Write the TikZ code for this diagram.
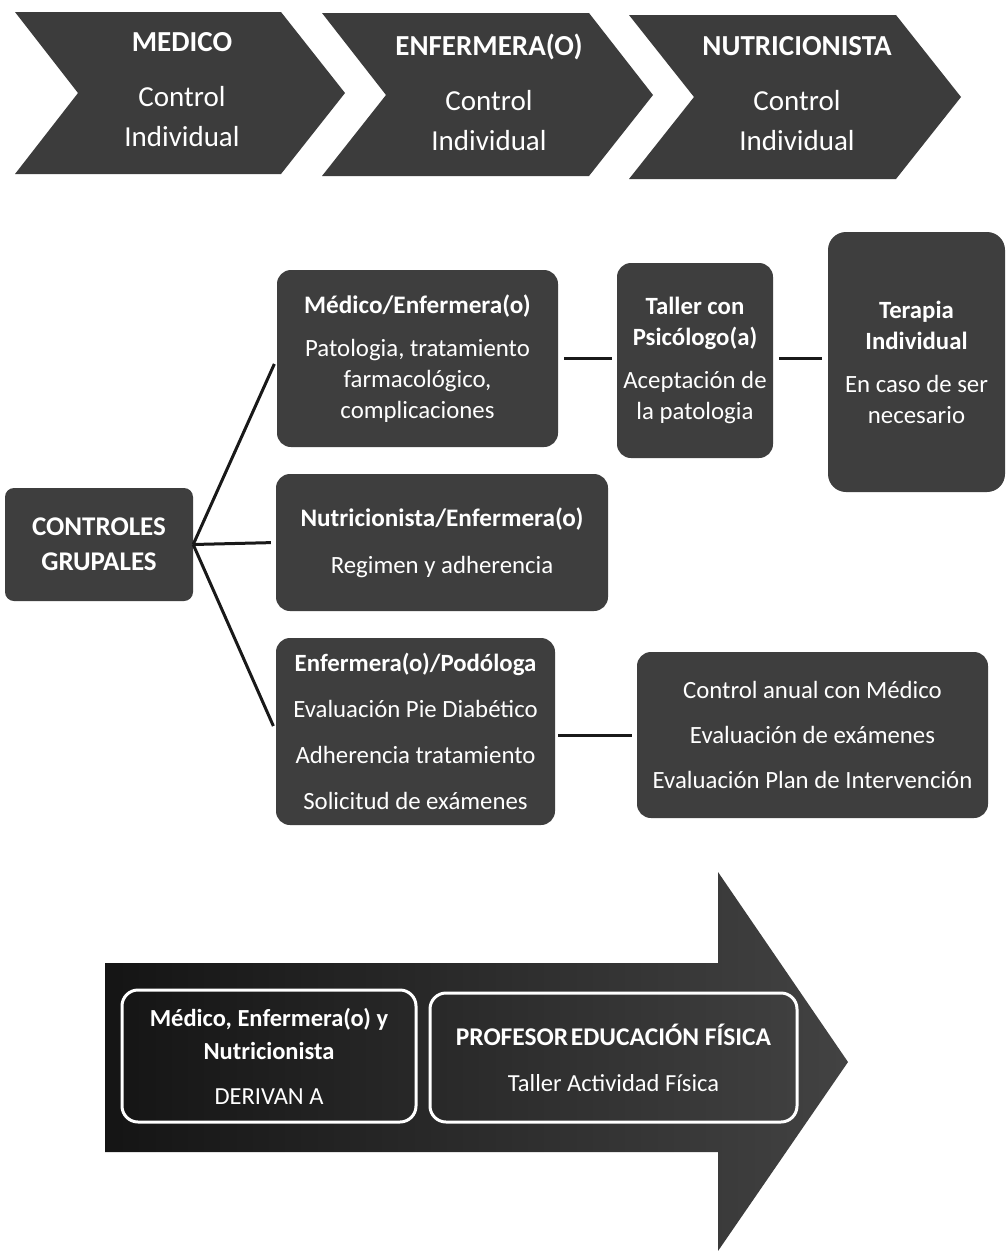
\documentclass[tikz,border=0pt]{standalone}
\usepackage{fontspec}
\setmainfont{Carlito}
\usetikzlibrary{calc}
\definecolor{boxgray}{RGB}{62,62,62}
\definecolor{chevgray}{RGB}{60,60,60}
\begin{document}
\begin{tikzpicture}[x=1pt,y=-1pt,
  gbox/.style={fill=boxgray, rounded corners=14pt, text=white, align=center, inner sep=0pt,
    font=\fontsize{24.8}{31}\selectfont},
  chevtext/.style={text=white, align=center, inner sep=0pt, font=\fontsize{29}{40}\selectfont},
  inbox/.style={draw=white, line width=3pt, rounded corners=16pt, text=white, align=center,
    inner sep=0pt, font=\fontsize{24.5}{33}\selectfont},
  conn/.style={line width=3pt, draw=black!90}]
\useasboundingbox (0,0) rectangle (1008,1251);
\fill[white] (0,0) rectangle (1008,1251);

% top chevrons
\fill[chevgray] (15,12) -- (281,12) -- (345,93) -- (281,174) -- (15,174) -- (78,93) -- cycle;
\fill[chevgray] (322,13) -- (589,13) -- (653,95) -- (589,176) -- (322,176) -- (386,95) -- cycle;
\fill[chevgray] (629,15) -- (896,15) -- (961,97) -- (896,179) -- (629,179) -- (694,97) -- cycle;
\node[chevtext] (ch1) at (182,89.5) {{\bfseries MEDICO}\\[15pt]Control\\Individual};
\node[chevtext] (ch2) at (489,92) {{\bfseries ENFERMERA(O)}\\[15pt]Control\\Individual};
\node[chevtext] (ch3) at (797,94) {{\bfseries NUTRICIONISTA}\\[15pt]Control\\Individual};

% middle boxes
\node[gbox, rounded corners=9pt, minimum width=188pt, minimum height=113pt, font=\fontsize{27}{35}\selectfont\bfseries] (ctrl) at (99,544.5) {CONTROLES\\GRUPALES};
\node[gbox, minimum width=281pt, minimum height=177pt] (boxA) at (417.5,358.5)
  {{\bfseries\fontsize{25.2}{31}\selectfont Médico/Enfermera(o)}\\[12pt]Patologia, tratamiento\\farmacológico,\\complicaciones};
\node[gbox, minimum width=156pt, minimum height=195pt] (boxB) at (695,360.5)
  {{\bfseries Taller con}\\{\bfseries Psicólogo(a)}\\[12pt]Aceptación de\\la patologia};
\node[gbox, rounded corners=18pt, minimum width=177pt, minimum height=260pt] (boxC) at (916.5,362)
  {{\bfseries Terapia}\\{\bfseries Individual}\\[12pt]En caso de ser\\necesario};
\node[gbox, minimum width=332pt, minimum height=137pt] (boxD) at (442,542.5)
  {{\bfseries\fontsize{25.2}{31}\selectfont Nutricionista/Enfermera(o)}\\[16pt]Regimen y adherencia};
\node[gbox, minimum width=279pt, minimum height=187pt] (boxE) at (415.5,731.5)
  {{\bfseries Enfermera(o)/Podóloga}\\[15pt]Evaluación Pie Diabético\\[15pt]Adherencia tratamiento\\[15pt]Solicitud de exámenes};
\node[gbox, minimum width=351pt, minimum height=166pt] (boxF) at (812.5,735)
  {Control anual con Médico\\[14pt]Evaluación de exámenes\\[14pt]Evaluación Plan de Intervención};

% connectors
\draw[conn, shorten >=6pt] (ctrl.east) -- (boxA.west);
\draw[conn, shorten >=5pt] (ctrl.east) -- (boxD.west);
\draw[conn, shorten >=6pt] (ctrl.east) -- (boxE.west);
\draw[conn, shorten <=6pt, shorten >=5pt] (boxA.east) -- (boxA.east -| boxB.west);
\draw[conn, shorten <=6pt, shorten >=6pt] (boxB.east |- boxA.east) -- (boxA.east -| boxC.west);
\draw[conn, shorten <=3pt, shorten >=5pt] (boxE.east |- boxF.west) -- (boxF.west);

% bottom arrow
\shade[left color=black!92, right color=black!74]
  (105,963) -- (718,963) -- (718,872) -- (848,1062) -- (718,1251) -- (718,1152) -- (105,1152) -- cycle;
\node[inbox, minimum width=294pt, minimum height=132pt] (boxG) at (269,1056)
  {{\bfseries Médico, Enfermera(o) y}\\{\bfseries Nutricionista}\\[12pt]DERIVAN A};
\node[inbox, minimum width=367pt, minimum height=129pt] (boxH) at (613.5,1057.5)
  {{\bfseries\fontsize{25.5}{33}\selectfont PROFESOR\hspace{-0.12em} EDUCACIÓN FÍSICA}\\[13pt]Taller Actividad Física};
\end{tikzpicture}
\end{document}
